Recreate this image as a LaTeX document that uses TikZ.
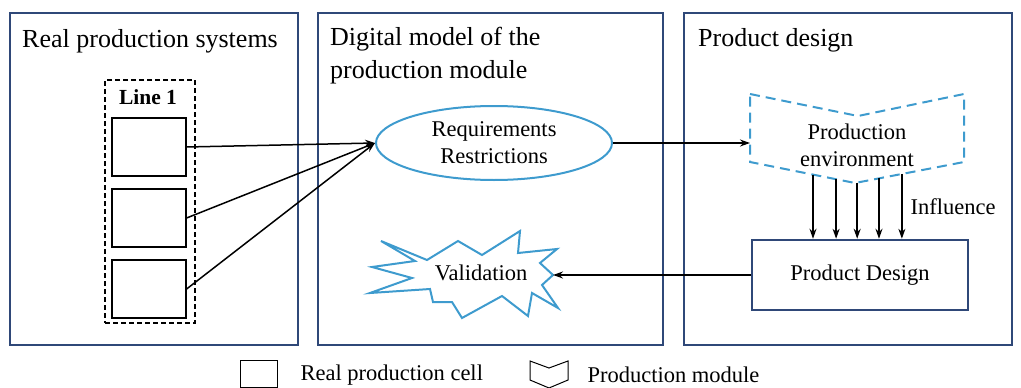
\documentclass[tikz,border=0pt]{standalone}
\usepackage{fontspec}
\setmainfont{Liberation Serif}
\usepackage{tikz}
\usetikzlibrary{shapes.geometric, arrows.meta, positioning, calc}
\definecolor{panelblue}{RGB}{47, 72, 120}
\definecolor{lightblue}{RGB}{62, 155, 206}

\begin{document}
\begin{tikzpicture}[
    x=1pt, y=-1pt,
    panel/.style={rectangle, draw=panelblue, line width=1.5pt, inner sep=0pt},
    header/.style={anchor=base west, inner sep=0pt, font=\fontsize{26}{33}\selectfont, align=left},
    cell/.style={rectangle, draw=black, line width=1.2pt, minimum width=74pt, minimum height=58pt, inner sep=0pt},
    label/.style={font=\fontsize{22.5}{27}\selectfont, align=center},
    reqellipse/.style={ellipse, draw=lightblue, line width=2pt, minimum width=236pt, minimum height=74pt, inner sep=0pt},
    burstline/.style={draw=lightblue, line width=2pt, line join=miter},
    designbox/.style={rectangle, draw=panelblue, line width=2.5pt, minimum width=216pt, minimum height=70pt, inner sep=0pt},
    envline/.style={draw=lightblue, line width=2pt, dash pattern=on 10pt off 6pt},
    arrow/.style={-{Stealth[length=10pt, width=7pt]}, line width=1.5pt}
]
\useasboundingbox (0,0) rectangle (1021,388);

% Panels
\node[panel, minimum width=288pt, minimum height=332pt] (real) at (154,179) {};
\node[panel, minimum width=345pt, minimum height=332pt] (digital) at (490.5,179) {};
\node[panel, minimum width=328pt, minimum height=332pt] (product) at (848,179) {};
\node[header] (realtitle) at (22,47) {Real production systems};
\node[header] (digitaltitle) at (330,78) {Digital model of the\\production module};
\node[header] (producttitle) at (698,46) {Product design};

% Line 1 with cells
\node[rectangle, draw=black, dash pattern=on 5pt off 3pt, line width=1.3pt, minimum width=90pt, minimum height=243pt, inner sep=0pt] (line) at (150,201.5) {};
\node[font=\fontsize{21.5}{26}\selectfont\bfseries] (linetitle) at (148,97) {Line 1};
\node[cell] (cella) at (149,147) {};
\node[cell] (cellb) at (149,218) {};
\node[cell] (cellc) at (149,289) {};

% Digital model
\node[reqellipse, label] (req) at (494,143) {Requirements\\Restrictions};
\draw[burstline] (381,241) -- (427,260) -- (458,241) -- (482,255) -- (520,231) -- (518,253)
  -- (557,249) -- (540,263) -- (553,275) -- (542,285) -- (558,308) -- (532,293)
  -- (528,316) -- (502,296) -- (462,318) -- (452,302) -- (433,302) -- (430,289)
  -- (370,293) -- (412,278) -- (372,267) -- (415,261) -- cycle;
\node[label] (valid) at (481,273) {Validation};
\coordinate (validin) at (553,275);

% Production environment
\coordinate (envtl) at (750,94);
\coordinate (envt) at (858,116);
\coordinate (envtr) at (964,94);
\coordinate (envbr) at (964,162);
\coordinate (envb) at (855,183);
\coordinate (envbl) at (750,162);
\draw[envline] (envtl) -- (envt) -- (envtr) -- (envbr) -- (envb) -- (envbl) -- cycle;
\node[label] (env) at (857,145) {Production\\environment};
\coordinate (envin) at (750,143);

% Product design
\node[designbox, label] (design) at (860,275) {Product Design};

% Arrows
\draw[arrow] (cella.east) -- (req.west);
\draw[arrow] (cellb.east) -- (req.west);
\draw[arrow] (cellc.east) -- (req.west);
\draw[arrow] (req.east) -- (envin);
\foreach \t [count=\i] in {0.6, 0.82} {
  \coordinate (infl\i) at ($(envbl)!\t!(envb)$);
  \draw[arrow] (infl\i) -- (infl\i |- design.north);
}
\foreach \t [count=\i from 3] in {0.02, 0.22, 0.43} {
  \coordinate (infl\i) at ($(envb)!\t!(envbr)$);
  \draw[arrow] (infl\i) -- (infl\i |- design.north);
}
\node[label, anchor=west] (influence) at (907,207) {Influence};
\draw[arrow] (design.west) -- (validin);

% Legend
\node[rectangle, draw=black, line width=1pt, minimum width=37pt, minimum height=27pt, inner sep=0pt] (legcell) at (258.5,373.5) {};
\node[label, anchor=west] (legcelltext) at (297,375) {Real production cell};
\draw[line width=1pt] (530,361) -- (549,368) -- (568,361) -- (568,380) -- (549,388) -- (530,380) -- cycle;
\coordinate (legmodule) at (568,374);
\node[label, anchor=west] (legmoduletext) at (584,375) {Production module};

\end{tikzpicture}
\end{document}
